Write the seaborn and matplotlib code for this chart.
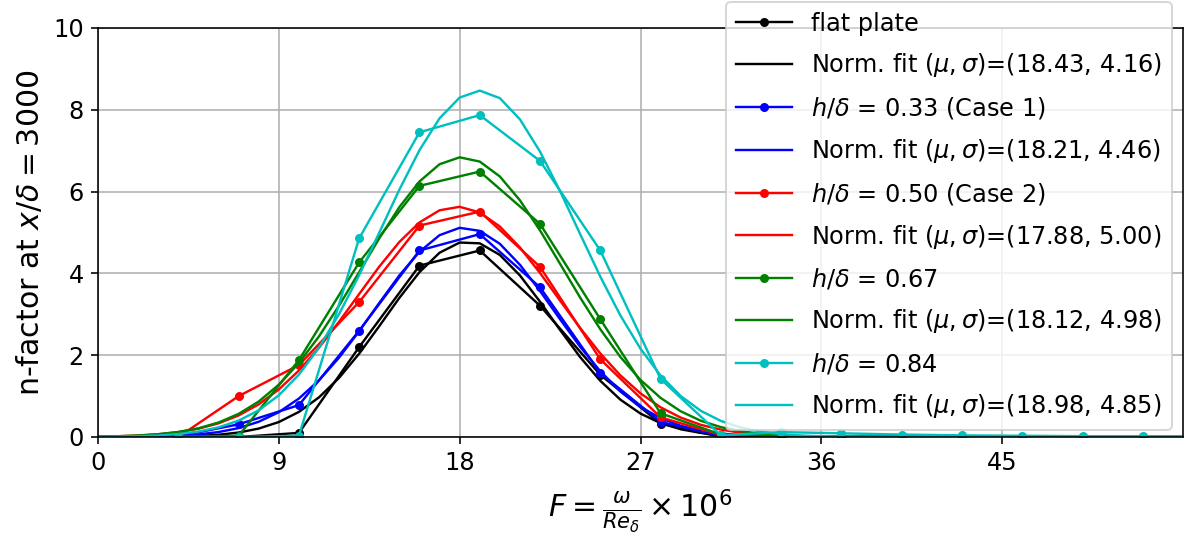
import numpy as np
import matplotlib
matplotlib.use("Agg")
import matplotlib.pyplot as plt
import seaborn as sns

# ---- data ----
F = [4, 7, 10, 13, 16, 19, 22, 25, 28, 31, 34, 37, 40, 43, 46, 49, 52]

n_flat = [0.0, 0.0, 0.10, 2.20, 4.19, 4.56, 3.21, 1.52, 0.33, 0.0, 0.0, 0.0, 0.0, 0.0, 0.0, 0.0, 0.0]
n_033 = [0.02, 0.31, 0.78, 2.60, 4.56, 4.96, 3.66, 1.56, 0.37, 0.02, 0.0, 0.0, 0.0, 0.0, 0.0, 0.0, 0.0]
n_050 = [0.0, 1.00, 1.76, 3.30, 5.17, 5.51, 4.16, 1.90, 0.48, 0.05, 0.01, 0.0, 0.0, 0.0, 0.0, 0.0, 0.0]
n_067 = [0.0, 0.03, 1.88, 4.27, 6.14, 6.49, 5.21, 2.88, 0.58, 0.06, 0.02, 0.0, 0.0, 0.0, 0.0, 0.0, 0.0]
n_084 = [0.0, 0.0, 0.03, 4.86, 7.45, 7.87, 6.75, 4.56, 1.42, 0.04, 0.12, 0.09, 0.06, 0.04, 0.03, 0.02, 0.02]

# normal fits: (mu, sigma) from legend, peak amplitude
fit_mu = [18.43, 18.21, 17.88, 18.12, 18.98]
fit_sigma = [4.16, 4.46, 5.00, 4.98, 4.85]
fit_amp = [4.78, 5.12, 5.63, 6.84, 8.47]
F_fit = np.arange(0, 55, 1)

data_labels = ["flat plate",
               r"$h/\delta$ = 0.33 (Case 1)",
               r"$h/\delta$ = 0.50 (Case 2)",
               r"$h/\delta$ = 0.67",
               r"$h/\delta$ = 0.84"]
colors = ["k", "b", "r", "g", "c"]
series = [n_flat, n_033, n_050, n_067, n_084]

xticks = [0, 9, 18, 27, 36, 45]
yticks = [0, 2, 4, 6, 8, 10]

# ---- figure ----
dpi = 144
fig = plt.figure(figsize=(1187 / dpi, 537 / dpi), dpi=dpi)
ax = fig.add_axes([98 / 1187, 1 - 437 / 537, (1183 - 98) / 1187, (437 - 28) / 537])

for i in range(5):
    sns.lineplot(x=F, y=series[i], color=colors[i], marker=".", markersize=7,
                 markeredgecolor=colors[i], markeredgewidth=1, linewidth=1.2,
                 sort=False, estimator=None, errorbar=None,
                 label=data_labels[i], ax=ax)
    fit = fit_amp[i] * np.exp(-(F_fit - fit_mu[i]) ** 2 / (2 * fit_sigma[i] ** 2))
    sns.lineplot(x=F_fit, y=fit, color=colors[i], linewidth=1.2,
                 sort=False, estimator=None, errorbar=None,
                 label=r"Norm. fit $(\mu,\sigma)$=(%.2f, %.2f)" % (fit_mu[i], fit_sigma[i]),
                 ax=ax)

ax.set_xlim(0, 54)
ax.set_ylim(0, 10)
ax.set_xticks(xticks)
ax.set_yticks(yticks)
ax.grid(True)
ax.set_xlabel(r"$F = \frac{\omega}{Re_\delta} \times 10^6$", fontsize=15, labelpad=6)
ax.set_ylabel(r"n-factor at $x/\delta = 3000$", fontsize=15)
ax.tick_params(labelsize=12)

ax.legend(loc="upper right", bbox_to_anchor=((1172 - 98) / 1085, (437 - 2) / 409),
          borderaxespad=0, fontsize=12, labelspacing=0.66, handlelength=2.35)

fig.savefig("out.png", dpi=dpi)
